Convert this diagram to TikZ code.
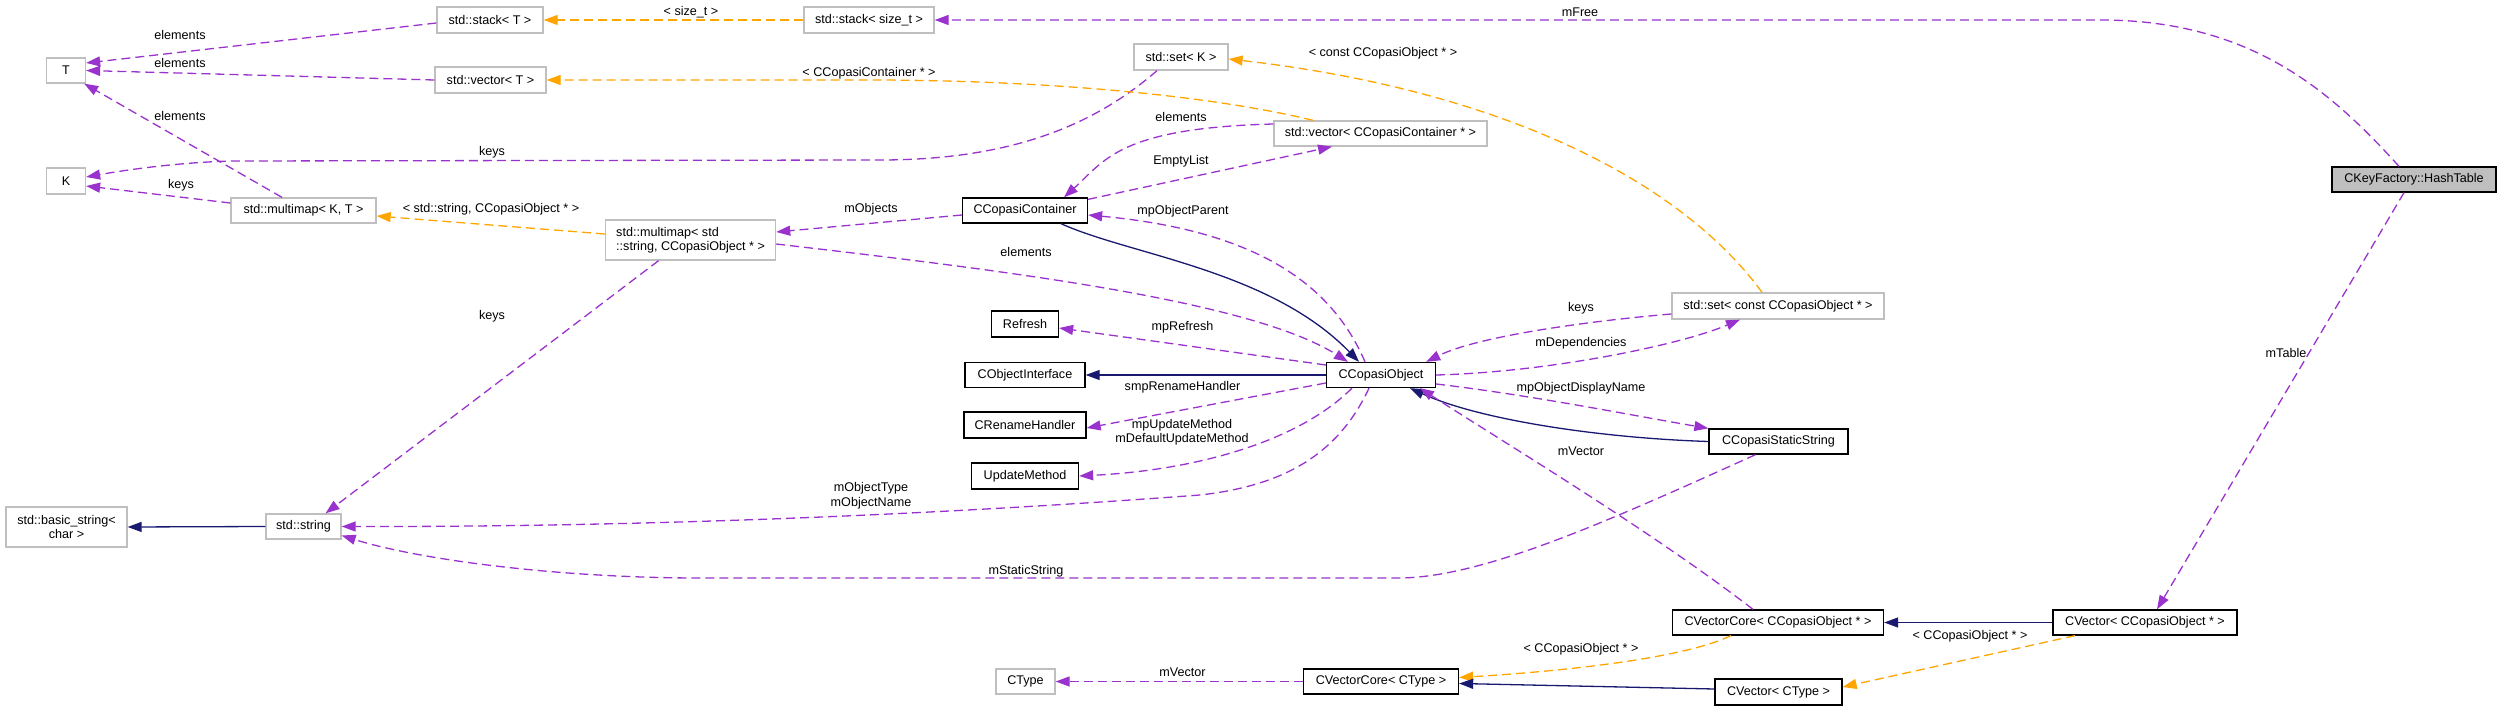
\documentclass[tikz,border=0pt]{standalone}
\usepackage{fontspec}
\setmainfont{Liberation Sans}
\usetikzlibrary{arrows.meta,calc}
\definecolor{dpurple}{HTML}{9A32CD}
\definecolor{dorange}{HTML}{FFA500}
\definecolor{dnavy}{HTML}{191970}
\definecolor{boxgray}{HTML}{BFBFBF}
\begin{document}
\begin{tikzpicture}[x=1pt,y=-1pt,
  font=\fontsize{12.6}{14.5}\selectfont,
  box/.style={draw=black, line width=1.3pt, fill=white, inner sep=0pt, minimum height=25pt},
  gbox/.style={box, draw=boxgray},
  lbl/.style={inner sep=0pt, text=black},
  tipx/.style={-{Triangle[length=14pt,width=10pt]}},
  use/.style={draw=dpurple, line width=1.3pt, dash pattern=on 9pt off 5pt, tipx},
  tmpl/.style={draw=dorange, line width=1.3pt, dash pattern=on 9pt off 5pt, tipx},
  inh/.style={draw=dnavy, line width=1.3pt, tipx}]
\useasboundingbox (0,0) rectangle (2501,711);

% ---------- nodes ----------
\node[gbox, minimum width=39pt] (T) at (66,70.5) {T};
\node[gbox, minimum width=39pt, minimum height=26pt] (K) at (66,181) {K};
\node[gbox, minimum width=106pt, minimum height=26pt] (stackT) at (490,20) {std::stack< T >};
\node[gbox, minimum width=111pt, minimum height=26pt] (vectorT) at (490.5,80) {std::vector< T >};
\node[gbox, minimum width=145pt] (mmKT) at (303.5,210.5) {std::multimap< K, T >};
\node[gbox, minimum width=130pt, minimum height=26pt] (stacksize) at (869,20) {std::stack< size\_t >};
\node[gbox, minimum width=94pt, minimum height=26pt] (setK) at (1181,57) {std::set< K >};
\node[gbox, minimum width=213pt] (vectorCC) at (1380.5,133.5) {std::vector< CCopasiContainer * >};
\node[gbox, minimum width=170pt, minimum height=40pt, align=left] (mmstd) at (690.6,240) {std::multimap< std\\::string, CCopasiObject * >};
\node[box, fill=boxgray, minimum width=164pt] (HashTable) at (2414,179.5) {CKeyFactory::HashTable};
\node[box, minimum width=125pt] (CCC) at (1025,210.5) {CCopasiContainer};
\node[box, minimum width=67pt, minimum height=26pt] (Refresh) at (1025,324) {Refresh};
\node[box, minimum width=120pt] (CObjectInterface) at (1025,375) {CObjectInterface};
\node[box, minimum width=122pt, minimum height=26pt] (CRename) at (1025,425) {CRenameHandler};
\node[box, minimum width=107pt, minimum height=26pt] (UpdateMethod) at (1025,476) {UpdateMethod};
\node[box, minimum width=109pt] (CCO) at (1381,375) {CCopasiObject};
\node[gbox, minimum width=212pt, minimum height=26pt] (setconst) at (1778,306) {std::set< const CCopasiObject * >};
\node[box, minimum width=139pt] (CCSS) at (1778.5,441.5) {CCopasiStaticString};
\node[gbox, minimum width=121pt, minimum height=40pt, align=center] (basicstring) at (66.5,527) {std::basic\_string<\\char >};
\node[gbox, minimum width=75pt] (stdstring) at (303.5,526.5) {std::string};
\node[gbox, minimum width=59pt] (CType) at (1025.5,681.5) {CType};
\node[box, minimum width=155pt] (VCoreCType) at (1381,681.5) {CVectorCore< CType >};
\node[box, minimum width=127pt, minimum height=26pt] (VCType) at (1778.5,692) {CVector< CType >};
\node[box, minimum width=211pt] (VCoreCCO) at (1778,622.5) {CVectorCore< CCopasiObject * >};
\node[box, minimum width=184pt] (VCCO) at (2145,622.5) {CVector< CCopasiObject * >};

% ---------- connectors ----------
\draw[use] ($(stackT.west)+(0,3)$) -- ($(T.east)+(0,-7.5)$);
\draw[use] (vectorT.west) -- (T.east);
\draw[use] ($(mmKT.north)+(-21.5,0)$) -- ($(T.south east)+(-2,0)$);
\draw[use] ($(setK.south)+(-24,0)$) .. controls (1100,120) and (1020,160) .. (880,160) -- (230,161) .. controls (170,163) and (120,171) .. ($(K.east)+(0,-4)$);
\draw[use] ($(mmKT.west)+(0,-7.5)$) -- ($(K.east)+(0,5)$);
\draw[tmpl] (stacksize.west) -- (stackT.east);
\draw[tmpl] ($(vectorCC.north)+(-67.5,0)$) .. controls (1230,100) and (1080,81) .. (880,80) -- (vectorT.east);
\draw[tmpl] ($(setconst.north)+(-16,0)$) .. controls (1680,180) and (1500,90) .. ($(setK.east)+(0,2)$);
\draw[tmpl] ($(mmstd.west)+(0,-6)$) -- ($(mmKT.east)+(0,5.5)$);
\draw[use] ($(HashTable.north)+(-15,0)$) .. controls (2330,90) and (2250,20) .. (2100,20) -- (stacksize.east);
\draw[use] ($(HashTable.south)+(-10,0)$) -- ($(VCCO.north)+(12,0)$);
\draw[use] ($(vectorCC.west)+(0,-9.5)$) .. controls (1120,128) and (1105,160) .. ($(CCC.north)+(39,0)$);
\draw[use] ($(CCC.north east)+(0,2)$) -- ($(vectorCC.south)+(-48.5,0)$);
\draw[use] ($(CCC.west)+(0,4.5)$) -- ($(mmstd.east)+(0,-8)$);
\draw[inh] ($(CCC.south)+(36,0)$) .. controls (1130,255) and (1270,270) .. ($(CCO.north)+(-22,0)$);
\draw[use] ($(CCO.north)+(-16,0)$) .. controls (1330,280) and (1250,230) .. ($(CCC.east)+(0,4.5)$);
\draw[use] ($(mmstd.east)+(0,4)$) .. controls (1000,270) and (1250,300) .. ($(CCO.north)+(-33,0)$);
\draw[use] ($(CCO.west)+(0,-10)$) -- ($(Refresh.east)+(0,4)$);
\draw[inh] (CCO.west) -- (CObjectInterface.east);
\draw[use] ($(CCO.west)+(0,8)$) -- ($(CRename.east)+(0,3)$);
\draw[use] ($(CCO.south)+(-29,0)$) .. controls (1300,440) and (1200,470) .. (UpdateMethod.east);
\draw[use] ($(CCO.south)+(-12,0)$) .. controls (1340,450) and (1290,485) .. (1200,495) .. controls (1000,510) and (700,527) .. (stdstring.east);
\draw[use] ($(mmstd.south)+(-32,0)$) -- ($(stdstring.north)+(22,0)$);
\draw[use] ($(CCSS.south)+(-23,0)$) .. controls (1600,525) and (1480,578) .. (1398,578) -- (700,578) .. controls (560,578) and (420,560) .. ($(stdstring.east)+(0,9)$);
\draw[use] (CCO.east) .. controls (1550,372) and (1680,345) .. ($(setconst.south)+(-38,0)$);
\draw[use] ($(setconst.west)+(0,8)$) .. controls (1600,320) and (1480,335) .. ($(CCO.north east)+(-10,0)$);
\draw[use] ($(CCO.east)+(0,9)$) .. controls (1530,395) and (1630,415) .. (CCSS.north west);
\draw[inh] (CCSS.west) .. controls (1600,438) and (1480,420) .. ($(CCO.south)+(29,0)$);
\draw[use] ($(VCoreCCO.north)+(-25,0)$) .. controls (1650,530) and (1500,440) .. ($(CCO.south)+(39,0)$);
\draw[tmpl] ($(VCoreCCO.south)+(-47,0)$) .. controls (1680,660) and (1550,672) .. ($(VCoreCType.east)+(0,-4)$);
\draw[inh] (VCCO.west) -- (VCoreCCO.east);
\draw[tmpl] ($(VCCO.south)+(-70,0)$) -- ($(VCType.east)+(0,-5)$);
\draw[inh] ($(VCType.west)+(0,-3)$) -- ($(VCoreCType.east)+(0,2)$);
\draw[use] (VCoreCType.west) -- (CType.east);
\draw[inh] (stdstring.west) -- (basicstring.east);

% ---------- labels ----------
\node[lbl] (l1) at (180,35) {elements};
\node[lbl] (l2) at (180,63) {elements};
\node[lbl] (l3) at (180,116) {elements};
\node[lbl] (l4) at (492,152) {keys};
\node[lbl] (l5) at (181,185) {keys};
\node[lbl] (l6) at (491,209) {< std::string, CCopasiObject * >};
\node[lbl] (l7) at (691,12) {< size\_t >};
\node[lbl] (l8) at (869,73) {< CCopasiContainer * >};
\node[lbl] (l9) at (1181,117) {elements};
\node[lbl] (l10) at (1181,161) {EmptyList};
\node[lbl] (l11) at (1383,53) {< const CCopasiObject * >};
\node[lbl] (l12) at (1580,12) {mFree};
\node[lbl] (l13) at (871,209) {mObjects};
\node[lbl] (l14) at (1183,211) {mpObjectParent};
\node[lbl] (l15) at (1026,252) {elements};
\node[lbl] (l16) at (1182.5,327) {mpRefresh};
\node[lbl] (l17) at (1182.5,387) {smpRenameHandler};
\node[lbl, align=center] (l18) at (1182,432) {mpUpdateMethod\\mDefaultUpdateMethod};
\node[lbl] (l19) at (492,316) {keys};
\node[lbl, align=center] (l20) at (871,495.5) {mObjectType\\mObjectName};
\node[lbl] (l21) at (1026,571) {mStaticString};
\node[lbl] (l22) at (1581,308) {keys};
\node[lbl] (l23) at (1581,343) {mDependencies};
\node[lbl] (l24) at (1581,388) {mpObjectDisplayName};
\node[lbl] (l25) at (1581,451) {mVector};
\node[lbl] (l26) at (1581,649) {< CCopasiObject * >};
\node[lbl] (l27) at (1182.5,672) {mVector};
\node[lbl] (l28) at (1970,636) {< CCopasiObject * >};
\node[lbl] (l29) at (2286,353) {mTable};
\end{tikzpicture}
\end{document}
